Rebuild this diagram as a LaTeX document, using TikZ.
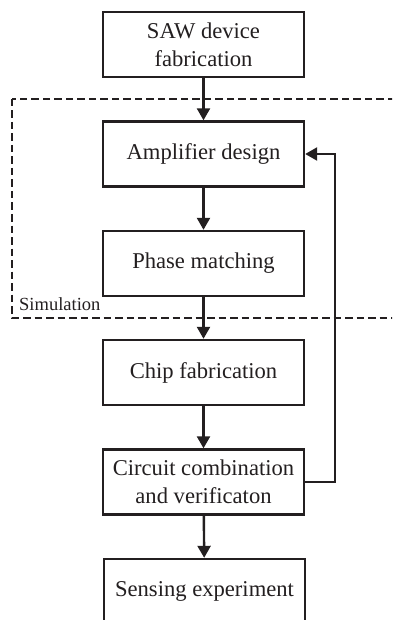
\documentclass[tikz,border=0pt]{standalone}
\usepackage{fontspec}
\setmainfont{Liberation Serif}
\usetikzlibrary{arrows.meta,positioning}
\definecolor{Ink}{HTML}{231F20}

\begin{document}
\begin{tikzpicture}[x=1pt,y=-1pt,>={Triangle[width=13pt,length=12pt]},
    stage/.style={draw=Ink,line width=2.4pt,fill=white,text=Ink,
      minimum width=201pt,minimum height=65pt,align=center,
      font=\fontsize{22.6}{28}\selectfont},
    flow/.style={draw=Ink,line width=2.4pt,->},
    simbox/.style={draw=Ink,line width=2.7pt,dash pattern=on 7.5pt off 4pt}]
  \useasboundingbox (0,0) rectangle (392,620);
  \clip (0,0) rectangle (392,620);

  % simulation region, open to the right
  \draw[simbox] (12,99) rectangle (410,318);
  \node[anchor=base west,inner sep=0pt,text=Ink,
        font=\fontsize{18.5}{22}\selectfont] (simlabel) at (19,310) {Simulation};

  % process steps
  \node[stage] (saw)   at (203.5,44.5)  {SAW device\\fabrication};
  \node[stage] (amp)   at (203.5,154)   {Amplifier design};
  \node[stage] (phase) at (203.5,263.5) {Phase matching};
  \node[stage] (chip)  at (203.5,372.5) {Chip fabrication};
  \node[stage] (circ)  at (203.5,482)   {Circuit combination\\and verificaton};
  \node[stage] (sense) at (204.5,591.5) {Sensing experiment};

  \draw[flow] (saw) -- (amp);
  \draw[flow] (amp) -- (phase);
  \draw[flow] (phase) -- (chip);
  \draw[flow] (chip) -- (circ);
  \draw[flow] (circ) -- (sense);
  % feedback loop
  \draw[flow] (circ.east) -- ++(30,0) |- (amp.east);
\end{tikzpicture}
\end{document}
